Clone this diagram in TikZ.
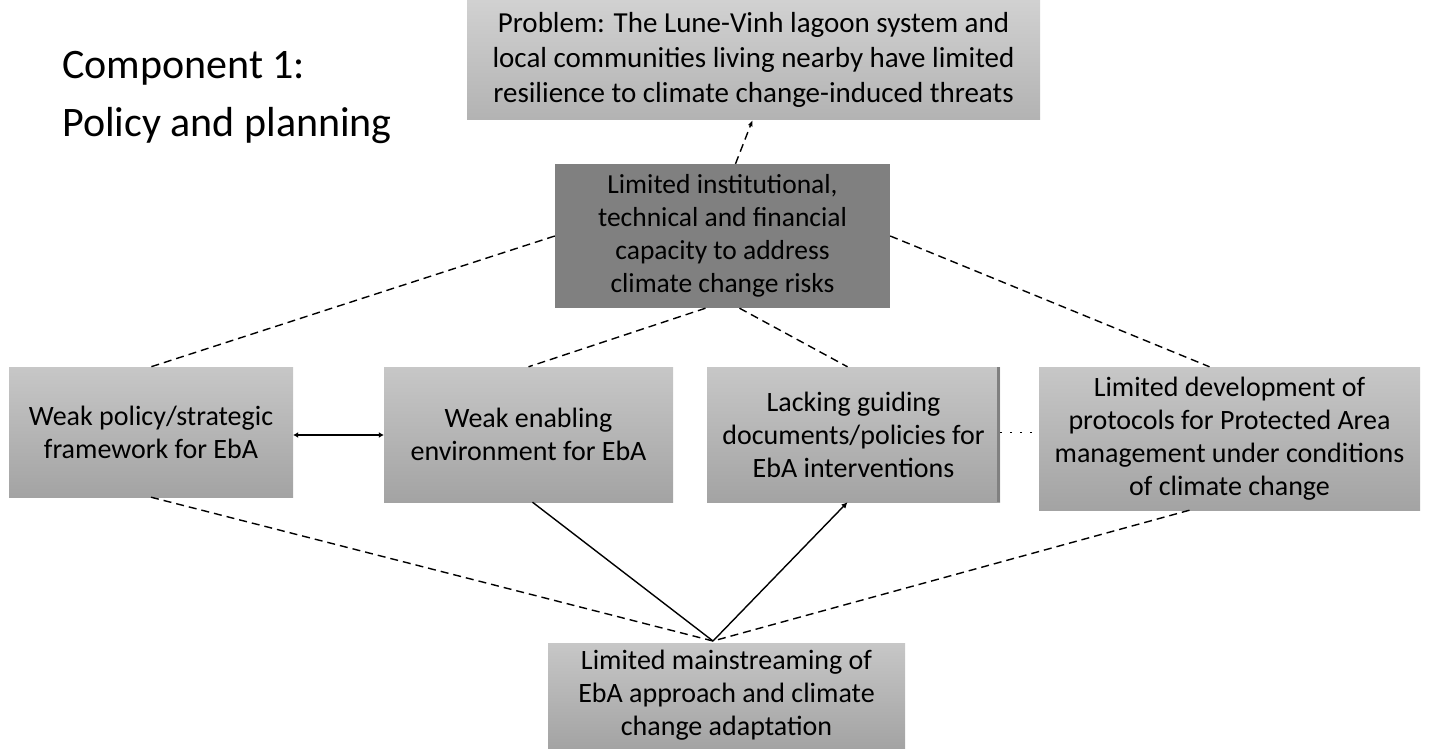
\documentclass[tikz,border=0pt]{standalone}
\usepackage{fontspec}
\setmainfont{Carlito}
\usetikzlibrary{calc,arrows.meta}
\tikzset{
  box/.style={draw=none, top color=black!22, bottom color=black!36, align=center, inner sep=0pt,
    font=\fontsize{28}{33}\selectfont},
  darkbox/.style={fill=black!50, align=center, inner sep=0pt, font=\fontsize{27.5}{33}\selectfont},
  link/.style={draw=black, line width=1.4pt, dash pattern=on 8pt off 5pt},
  solidlink/.style={draw=black, line width=1.4pt},
  titletext/.style={anchor=base west, inner sep=0pt, font=\fontsize{42}{50}\selectfont},
}
\begin{document}
\begin{tikzpicture}[x=1pt,y=-1pt]
\useasboundingbox (0,0) rectangle (1429,751);
\node[titletext] (title1) at (62,79) {Component 1:};
\node[titletext] (title2) at (62,137) {Policy and planning};
\node[box, top color=black!18, bottom color=black!30, minimum width=573pt, minimum height=120pt,
  font=\fontsize{29}{35}\selectfont] (prob) at (753.5,60)
  {Problem: The Lune-Vinh lagoon system and\\local communities living nearby have limited\\resilience to climate change-induced threats};
\node[darkbox, minimum width=335pt, minimum height=144pt] (cap) at (722.5,236)
  {Limited institutional,\\technical and financial\\capacity to address\\climate change risks};
\node[box, minimum width=284pt, minimum height=130pt] (b1) at (151,432)
  {Weak policy/strategic\\framework for EbA};
\node[box, minimum width=289pt, minimum height=135pt] (b2) at (528.5,434.5)
  {Weak enabling\\environment for EbA};
\node[box, minimum width=293pt, minimum height=135pt] (b3) at (853.5,434.5)
  {Lacking guiding\\documents/policies for\\EbA interventions};
\fill[black!50] ($(b3.north east)+(-3,0)$) rectangle (b3.south east);
\node[box, minimum width=381pt, minimum height=143pt] (b4) at (1229.5,438.5)
  {Limited development of\\protocols for Protected Area\\management under conditions\\of climate change};
\node[box, minimum width=357pt, minimum height=105pt] (bot) at (726.5,695.5)
  {Limited mainstreaming of\\EbA approach and climate\\change adaptation};
\coordinate (m) at (713,641);
% connectors
\draw[link, -{Latex[length=6pt,width=5pt]}] ($(cap.north)+(13,0)$) -- ($(prob.south)+(-1,0)$);
\draw[link] (cap.west) -- (b1.north);
\draw[link] (cap.east) -- ($(b4.north)+(-20,0)$);
\draw[link] ($(cap.south)+(-17,0)$) -- (b2.north);
\draw[link] ($(cap.south)+(17,0)$) -- ($(b3.north)+(-6,0)$);
\draw[solidlink, line width=2pt, {Latex[length=5pt,width=6pt]}-{Latex[length=5pt,width=6pt]}] ($(b1.east)+(0,3)$) -- ($(b1.east -| b2.west)+(0,3)$);
\draw[black, line width=1.4pt, dash pattern=on 2pt off 8pt] ($(b3.east)+(0,-2)$) -- ($(b3.east -| b4.west)+(0,-2)$);
\draw[link] (b1.south) -- (m);
\draw[solidlink] ($(b2.south)+(4,0)$) -- (m);
\draw[solidlink, {Latex[length=6pt,width=6pt]}-] ($(b3.south)+(-6,0)$) -- (m);
\draw[link] ($(b4.south)+(-40,0)$) -- (m);
\end{tikzpicture}
\end{document}
